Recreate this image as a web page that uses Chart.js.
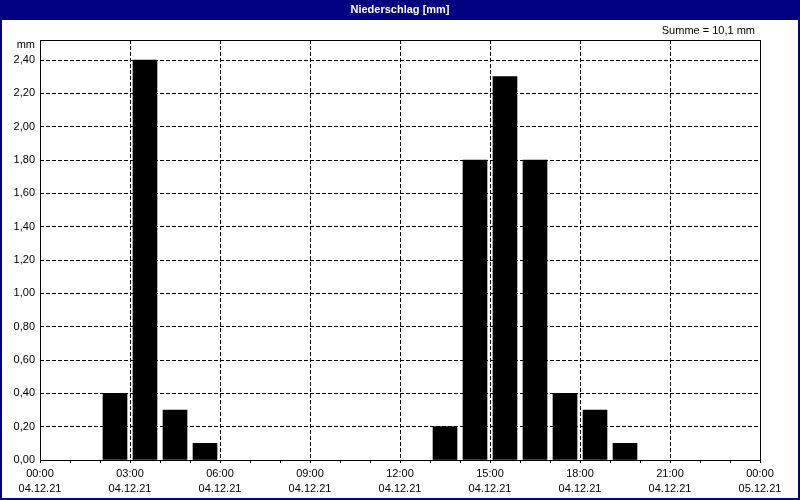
<!DOCTYPE html>
<html>
<head>
<meta charset="utf-8">
<script src="https://cdn.jsdelivr.net/npm/chart.js@4/dist/chart.umd.min.js"></script>
<style>
  html, body { margin: 0; padding: 0; background: #fff; }
  #wrap { width: 800px; height: 500px; }
</style>
</head>
<body>
<div id="wrap"><canvas id="rain-chart" width="800" height="500"></canvas></div>
<script>
// hourly precipitation, 04.12.21 00:00 .. 05.12.21 00:00 (value = hour start)
const hours = [0, 1, 2, 3, 4, 5, 6, 7, 8, 9, 10, 11, 12, 13, 14, 15, 16, 17, 18, 19, 20, 21, 22, 23];
const amounts = [0, 0, 0.4, 2.4, 0.3, 0.1, 0, 0, 0, 0, 0, 0, 0, 0.2, 1.8, 2.3, 1.8, 0.4, 0.3, 0.1, 0, 0, 0, 0];
const timeLabels = ['00:00', '03:00', '06:00', '09:00', '12:00', '15:00', '18:00', '21:00', '00:00'];
const dateLabels = ['04.12.21', '04.12.21', '04.12.21', '04.12.21', '04.12.21', '04.12.21', '04.12.21', '04.12.21', '05.12.21'];
const yTicks = [0, 0.2, 0.4, 0.6, 0.8, 1.0, 1.2, 1.4, 1.6, 1.8, 2.0, 2.2, 2.4];

const FONT = 'Liberation Sans';
const NAVY = '#000080';

// German number format
const fmt = (v, d) => v.toFixed(d).replace('.', ',');

// Title bar, frame, unit and sum label
const decorPlugin = {
    id: 'decor',
    beforeDraw(chart) {
        const ctx = chart.ctx;
        ctx.save();
        ctx.fillStyle = '#fff';
        ctx.fillRect(0, 0, chart.width, chart.height);
        ctx.fillStyle = NAVY;
        ctx.fillRect(0, 0, chart.width, 20);
        ctx.fillStyle = '#fff';
        ctx.font = 'bold 11px "' + FONT + '"';
        ctx.textAlign = 'center';
        ctx.textBaseline = 'middle';
        ctx.fillText('Niederschlag [mm]', chart.width / 2, 10);
        ctx.restore();
    },
    afterDraw(chart) {
        const ctx = chart.ctx;
        const a = chart.chartArea;
        const total = amounts.reduce((s, v) => s + v, 0);
        ctx.save();
        ctx.strokeStyle = '#000';
        ctx.lineWidth = 1;
        ctx.strokeRect(Math.round(a.left) + 0.5, Math.round(a.top) + 0.5,
            Math.round(a.right - a.left), Math.round(a.bottom - a.top));
        ctx.fillStyle = '#000';
        ctx.font = '11px "' + FONT + '"';
        ctx.textBaseline = 'middle';
        ctx.textAlign = 'right';
        ctx.fillText('Summe = ' + fmt(total, 1) + ' mm', 755, 31);
        ctx.fillText('mm', 35, 45);
        ctx.strokeStyle = NAVY;
        ctx.lineWidth = 2;
        ctx.strokeRect(1, 1, chart.width - 2, chart.height - 2);
        ctx.restore();
    }
};

new Chart(document.getElementById('rain-chart').getContext('2d'), {
    type: 'bar',
    data: {
        datasets: [{
            label: 'Niederschlag',
            // dry hours left empty so no hairline is drawn on the axis
            data: hours.map((h, i) => ({ x: h + 0.5, y: amounts[i] || null })),
            backgroundColor: '#000',
            borderWidth: 0,
            barThickness: 24
        }]
    },
    options: {
        responsive: false,
        animation: false,
        layout: { padding: { top: 40, right: 40, left: 0, bottom: 0 } },
        plugins: {
            legend: { display: false },
            tooltip: { enabled: false }
        },
        scales: {
            x: {
                type: 'linear',
                offset: false,
                min: 0,
                max: 24,
                afterFit: (scale) => { scale.height = 40; },
                afterBuildTicks: (scale) => {
                    scale.ticks = hours.concat([24]).map(v => ({ value: v }));
                },
                ticks: {
                    autoSkip: false,
                    maxRotation: 0,
                    padding: 3,
                    color: '#000',
                    font: { family: FONT, size: 11, lineHeight: 1.42 },
                    callback: (v) => v % 3 === 0 ? [timeLabels[v / 3], dateLabels[v / 3]] : ''
                },
                grid: {
                    offset: false,
                    color: (c) => (c.tick && c.tick.value % 3 === 0) ? '#000' : 'rgba(0,0,0,0)',
                    tickColor: '#000',
                    tickLength: 3,
                    tickBorderDash: [0, 0]
                },
                border: { display: false, dash: [4, 2] }
            },
            y: {
                min: 0,
                max: 2.52,
                afterFit: (scale) => { scale.width = 40; },
                afterBuildTicks: (scale) => {
                    scale.ticks = yTicks.map(v => ({ value: v }));
                },
                ticks: {
                    padding: 5,
                    color: '#000',
                    font: { family: FONT, size: 11 },
                    callback: (v) => fmt(v, 2)
                },
                grid: {
                    color: '#000',
                    drawTicks: false
                },
                border: { display: false, dash: [4, 2] }
            }
        }
    },
    plugins: [decorPlugin]
});
</script>
</body>
</html>
